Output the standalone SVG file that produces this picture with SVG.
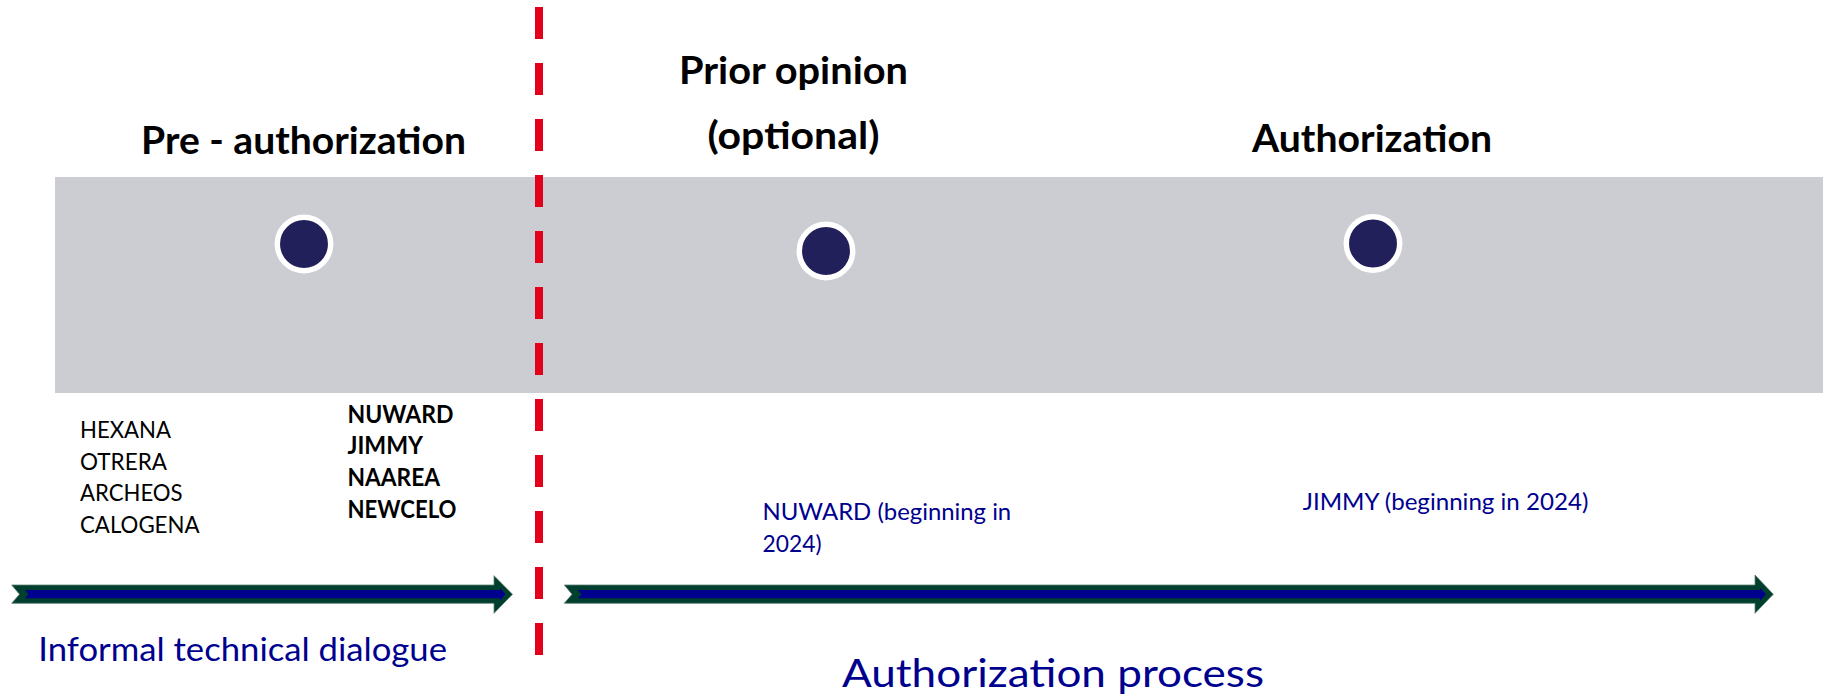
<svg xmlns="http://www.w3.org/2000/svg" width="1826" height="698" viewBox="0 0 1826 698">
<style>
.h{font-family:Lato,"Open Sans","Liberation Sans",sans-serif;font-weight:bold;font-size:38px;fill:#000}
.l{font-family:Lato,"Open Sans","Liberation Sans",sans-serif;font-size:24px;fill:#000}
.lb{font-family:Lato,"Open Sans","Liberation Sans",sans-serif;font-size:24px;font-weight:bold;fill:#000}
.b{font-family:Lato,"Open Sans","Liberation Sans",sans-serif;font-size:23.8px;fill:#00008f}
.bl{font-family:Lato,"Open Sans","Liberation Sans",sans-serif;fill:#00008f}
.dot{fill:#22205a;stroke:#fff;stroke-width:5.5}
.ao{fill:#003f2d;stroke:#5f7f74;stroke-width:0.8}
.ai{fill:#00008f}
</style>
<rect x="0" y="0" width="1826" height="698" fill="#fff"/>
<rect id="band" x="55" y="177" width="1768" height="216" fill="#cccdd2"/>
<g id="divider">
<line x1="539" y1="7" x2="539" y2="660" stroke="#e3001b" stroke-width="8" stroke-dasharray="32 24"/>
</g>
<g id="phase-pre">
<circle class="dot" cx="304" cy="244" r="26.7"/>
<text class="h" x="141" y="154" textLength="325" lengthAdjust="spacingAndGlyphs">Pre - authorization</text>
</g>
<g id="phase-prior">
<circle class="dot" cx="826" cy="251" r="26.7"/>
<text class="h" x="679" y="83.5" textLength="229" lengthAdjust="spacingAndGlyphs">Prior opinion</text>
<text class="h" x="707.5" y="148.5" textLength="172" lengthAdjust="spacingAndGlyphs">(optional)</text>
</g>
<g id="phase-auth">
<circle class="dot" cx="1373" cy="243.5" r="26.7"/>
<text class="h" x="1252" y="151.5" textLength="240" lengthAdjust="spacingAndGlyphs">Authorization</text>
</g>
<g id="list-left">
<text class="l" x="80" y="437.5" textLength="91" lengthAdjust="spacingAndGlyphs">HEXANA</text>
<text class="l" x="80" y="469.5" textLength="87" lengthAdjust="spacingAndGlyphs">OTRERA</text>
<text class="l" x="80" y="501" textLength="102.6" lengthAdjust="spacingAndGlyphs">ARCHEOS</text>
<text class="l" x="80" y="533" textLength="119.5" lengthAdjust="spacingAndGlyphs">CALOGENA</text>
</g>
<g id="list-right">
<text class="lb" x="347.5" y="422.5" textLength="106" lengthAdjust="spacingAndGlyphs">NUWARD</text>
<text class="lb" x="347.5" y="454" textLength="75.5" lengthAdjust="spacingAndGlyphs">JIMMY</text>
<text class="lb" x="347.5" y="486" textLength="92.6" lengthAdjust="spacingAndGlyphs">NAAREA</text>
<text class="lb" x="347.5" y="517.7" textLength="109" lengthAdjust="spacingAndGlyphs">NEWCELO</text>
</g>
<g id="nuward-note">
<text class="b" x="762.5" y="520" textLength="248.7" lengthAdjust="spacingAndGlyphs">NUWARD (beginning in</text>
<text class="b" x="762.5" y="551.7" textLength="59" lengthAdjust="spacingAndGlyphs">2024)</text>
</g>
<g id="jimmy-note">
<text class="b" x="1302.7" y="510" textLength="285.7" lengthAdjust="spacingAndGlyphs">JIMMY (beginning in 2024)</text>
</g>
<g id="connectors">
<g id="arrow-informal">
<polygon class="ao" points="11.7,585 494,585 494,575.7 512.5,594.3 494,613.3 494,603.3 11.7,603.3 19.5,594.3"/>
<polygon class="ai" points="25,590 500,590 500,588 505.5,594.3 500,600.6 500,598.3 25,598.3 28.5,594.3"/>
</g>
<g id="arrow-process">
<polygon class="ao" points="564.3,585 1755,585 1755,575 1773.3,594.3 1755,613.3 1755,603.3 564.3,603.3 572,594.3"/>
<polygon class="ai" points="578,590 1760,590 1760,588 1766,594.3 1760,600.6 1760,598.3 578,598.3 581.5,594.3"/>
</g>
</g>
<g id="label-informal">
<text class="bl" x="38.3" y="660.7" font-size="32" textLength="408.7" lengthAdjust="spacingAndGlyphs">Informal technical dialogue</text>
</g>
<g id="label-process">
<text class="bl" x="842" y="686.7" font-size="38" textLength="422" lengthAdjust="spacingAndGlyphs">Authorization process</text>
</g>
</svg>
